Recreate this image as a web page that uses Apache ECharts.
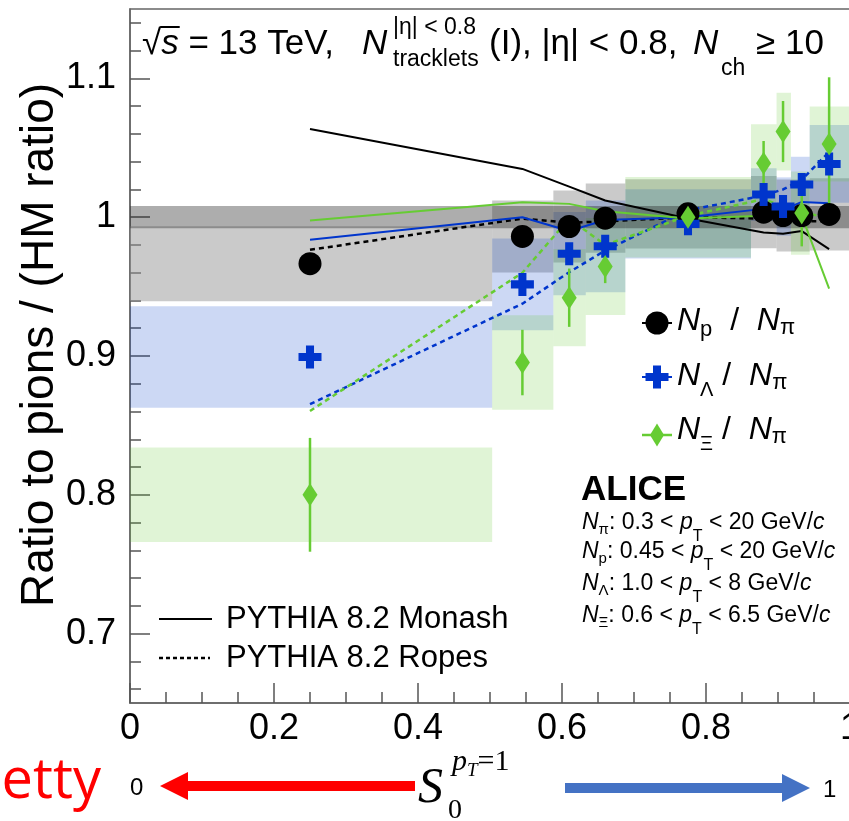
<!DOCTYPE html>
<html>
<head>
<meta charset="utf-8">
<script src="https://cdn.jsdelivr.net/npm/echarts@6/dist/echarts.min.js"></script>
<style>
  html, body { margin: 0; padding: 0; background: #fff; }
  #chart { width: 849px; height: 821px; }
</style>
</head>
<body>
<div id="chart"></div>
<script>
// S0 (pT=1) bins: centre and edges
var binX  = [0.25, 0.545, 0.61, 0.66, 0.775, 0.88, 0.907, 0.933, 0.971];
var binLo = [0, 0.503, 0.588, 0.633, 0.688, 0.8625, 0.898, 0.918, 0.944];
var binHi = [0.503, 0.588, 0.633, 0.688, 0.8625, 0.898, 0.918, 0.944, 1.0];

// data: ratio to pions / HM ratio
var protonRatio = [0.9665, 0.9861, 0.9933, 0.9993, 1.0024, 1.0036, 1.0012, 1.0012, 1.002];
var protonSyst  = [0.027, 0.026, 0.026, 0.025, 0.025, 0.026, 0.026, 0.026, 0.026];
var lambdaRatio = [0.8993, 0.9516, 0.9737, 0.979, 0.9952, 1.0163, 1.0077, 1.0235, 1.0384];
var lambdaSyst  = [0.0366, 0.033, 0.03, 0.033, 0.025, 0.019, 0.021, 0.02, 0.028];
var xiRatio = [0.800, 0.8953, 0.942, 0.9645, 1.0, 1.0389, 1.0617, 1.003, 1.0528];
var xiStat  = [0.041, 0.0236, 0.021, 0.012, 0.008, 0.016, 0.022, 0.024, 0.048];
var xiSyst  = [0.034, 0.034, 0.035, 0.035, 0.029, 0.028, 0.028, 0.03, 0.027];
var normBand = [0.992, 1.008];

// PYTHIA 8.2 curves at the same S0 points
var monashP  = [1.0636, 1.0348, 1.022, 1.012, 0.999, 0.989, 0.988, 0.990, 0.977];
var ropesP   = [0.9765, 0.999, 0.996, 0.997, 1.0, 0.999, 0.998, 0.997, 0.997];
var monashL  = [0.9837, 1.0, 0.990, 0.998, 1.0, 1.006, 1.005, 1.011, 1.010];
var ropesL   = [0.8653, 0.9377, 0.9604, 0.976, 1.005, 1.0156, 1.020, 1.027, 1.047];
var monashXi = [0.9976, 1.0108, 1.0096, 1.0043, 0.999, 1.001, 1.001, 1.001, 0.9485];
var ropesXi  = [0.8604, 0.960, 0.999, 0.980, 1.001, 1.013, 1.008, 1.004, 0.999];

var yMajorTicks = [0.7, 0.8, 0.9, 1.0, 1.1];
var yMinorTicks = [0.66, 0.68, 0.72, 0.74, 0.76, 0.78, 0.82, 0.84, 0.86, 0.88, 0.92, 0.94, 0.96, 0.98,
                   1.02, 1.04, 1.06, 1.08, 1.12, 1.14];

var SANS = '"Liberation Sans", Arial, sans-serif';
var SERIF = '"Liberation Serif", "DejaVu Serif", serif';
var BLACK = '#000', BLUE = '#0035cc', GREEN = '#66cc33';

var chart = echarts.init(document.getElementById('chart'));

function pts(ys) {
  return binX.map(function (x, i) { return [x, ys[i]]; });
}

// systematic boxes drawn as rects via the axes
function boxSeries(vals, errs, color, z) {
  return {
    type: 'custom', z: z, silent: true,
    renderItem: function (params, api) {
      var a = api.coord([api.value(0), api.value(3)]);
      var b = api.coord([api.value(1), api.value(2)]);
      return { type: 'rect', shape: { x: a[0], y: a[1], width: b[0] - a[0], height: b[1] - a[1] },
               style: { fill: color } };
    },
    data: binX.map(function (x, i) { return [binLo[i], binHi[i], vals[i] - errs[i], vals[i] + errs[i]]; })
  };
}

function errSeries(vals, errs, color, z) {
  return {
    type: 'custom', z: z, silent: true,
    renderItem: function (params, api) {
      var a = api.coord([api.value(0), api.value(1)]);
      var b = api.coord([api.value(0), api.value(2)]);
      return { type: 'line', shape: { x1: a[0], y1: a[1], x2: b[0], y2: b[1] },
               style: { stroke: color, lineWidth: 2.5 } };
    },
    data: binX.map(function (x, i) { return [x, vals[i] - errs[i], vals[i] + errs[i]]; })
  };
}

function mcLine(ys, color, dashed) {
  return {
    type: 'line', z: 5, silent: true, showSymbol: false, symbol: 'none',
    lineStyle: { color: color, width: dashed ? 2.5 : 2, type: dashed ? [5, 4] : 'solid' },
    data: pts(ys)
  };
}

var CROSS = 'path://M6.5,0H13.5V6.5H20V13.5H13.5V20H6.5V13.5H0V6.5H6.5Z';

// ---------- text helpers ----------
var mctx = document.createElement('canvas').getContext('2d');
function fnt(p) {
  return (p.it ? 'italic ' : '') + (p.b ? 'bold ' : '') + p.s + 'px ' + (p.f || SANS);
}
function txt(x, base, t, p) {
  return { type: 'text', z: 100, silent: true,
    style: { text: t, x: x, y: base - 0.35 * p.s, font: fnt(p), fill: p.c || BLACK,
             textAlign: p.al || 'left', align: p.al || 'left',
             textVerticalAlign: 'middle', verticalAlign: 'middle' } };
}
// lay text parts one after another; returns end x
function run(out, x, base, parts) {
  parts.forEach(function (p) {
    if (p.x !== undefined) x = p.x;
    out.push(txt(x, base + (p.dy || 0), p.t, p));
    mctx.font = fnt(p);
    x += mctx.measureText(p.t).width;
  });
  return x;
}

var g = [];
// header
var xs = run(g, 142, 57, [{ t: '\u221A', s: 35 }]);
var xe = run(g, xs, 57, [{ t: 's', s: 35, it: 1 }]);
g.push({ type: 'line', z: 100, shape: { x1: xs - 1, y1: 27, x2: xe + 1, y2: 27 }, style: { stroke: BLACK, lineWidth: 2 } });
run(g, xe, 57, [{ t: ' = 13 TeV,', s: 35 }]);
run(g, 362, 57, [{ t: 'N', s: 35, it: 1 }]);
run(g, 393, 57, [{ t: '|\u03B7| < 0.8', s: 23, dy: -21 }]);
run(g, 393, 57, [{ t: 'tracklets', s: 23, dy: 11 }]);
run(g, 489, 57, [{ t: '(I), |\u03B7| < 0.8,', s: 35 }]);
run(g, 693, 57, [{ t: 'N', s: 35, it: 1 }, { t: 'ch', s: 23, dy: 20, x: 721 }, { t: '\u2265 10', s: 35, x: 756 }]);

// y axis title
g.push({ type: 'text', z: 100, silent: true, x: 40, y: 345, rotation: Math.PI / 2,
  style: { text: 'Ratio to pions / (HM ratio)', x: 0, y: 0, font: '46px ' + SANS, fill: BLACK,
           textAlign: 'center', align: 'center', textVerticalAlign: 'middle', verticalAlign: 'middle' } });

// species legend
var lx = 657;
g.push({ type: 'line', z: 100, shape: { x1: lx - 15, y1: 323, x2: lx + 15, y2: 323 }, style: { stroke: BLACK, lineWidth: 2 } });
g.push({ type: 'circle', z: 100, shape: { cx: lx, cy: 323, r: 11.5 }, style: { fill: BLACK } });
g.push({ type: 'line', z: 100, shape: { x1: lx - 15, y1: 377, x2: lx + 15, y2: 377 }, style: { stroke: BLUE, lineWidth: 2 } });
g.push({ type: 'polygon', z: 100, shape: { points: [[lx - 4, 365.5], [lx + 4, 365.5], [lx + 4, 373], [lx + 11.5, 373], [lx + 11.5, 381], [lx + 4, 381], [lx + 4, 388.5], [lx - 4, 388.5], [lx - 4, 381], [lx - 11.5, 381], [lx - 11.5, 373], [lx - 4, 373]] }, style: { fill: BLUE } });
g.push({ type: 'line', z: 100, shape: { x1: lx - 15, y1: 435, x2: lx + 15, y2: 435 }, style: { stroke: GREEN, lineWidth: 2.5 } });
g.push({ type: 'polygon', z: 100, shape: { points: [[lx, 423.5], [lx + 7, 435], [lx, 446.5], [lx - 7, 435]] }, style: { fill: GREEN } });

run(g, 677, 332, [{ t: 'N', s: 32, it: 1 }, { t: 'p', s: 22, dy: 6 }, { t: '  /  ', s: 32 }, { t: 'N', s: 32, it: 1 }, { t: '\u03C0', s: 22, dy: 4 }]);
run(g, 677, 387, [{ t: 'N', s: 32, it: 1 }, { t: '\u039B', s: 20, dy: 10 }, { t: ' /  ', s: 32 }, { t: 'N', s: 32, it: 1 }, { t: '\u03C0', s: 22, dy: 4 }]);
run(g, 677, 441, [{ t: 'N', s: 32, it: 1 }, { t: '\u039E', s: 20, dy: 10 }, { t: ' /  ', s: 32 }, { t: 'N', s: 32, it: 1 }, { t: '\u03C0', s: 22, dy: 4 }]);

// ALICE block
run(g, 581, 503, [{ t: 'ALICE', s: 35, b: 1 }]);
var info = [['\u03C0', '0.3', '20'], ['p', '0.45', '20'], ['\u039B', '1.0', '8'], ['\u039E', '0.6', '6.5']];
var infoBase = [531, 560, 592, 624];
info.forEach(function (r, i) {
  run(g, 582, infoBase[i], [{ t: 'N', s: 23, it: 1 }, { t: r[0], s: 15, dy: 4 }, { t: ': ' + r[1] + ' < ', s: 23 },
    { t: 'p', s: 23, it: 1 }, { t: 'T', s: 16, dy: 11 }, { t: ' < ' + r[2] + ' GeV/', s: 23 }, { t: 'c', s: 23, it: 1 }]);
});

// PYTHIA legend
g.push({ type: 'line', z: 100, shape: { x1: 159, y1: 619, x2: 212, y2: 619 }, style: { stroke: BLACK, lineWidth: 2 } });
g.push({ type: 'line', z: 100, shape: { x1: 159, y1: 658, x2: 210, y2: 658 }, style: { stroke: BLACK, lineWidth: 2.5, lineDash: [4, 3] } });
run(g, 226, 630, [{ t: 'PYTHIA 8.2 Monash', s: 31 }]);
run(g, 226, 669, [{ t: 'PYTHIA 8.2 Ropes', s: 31 }]);

// bottom annotation
run(g, 101, 802, [{ t: 'etty', s: 56, c: '#ff0000', al: 'right', f: '"Open Sans", ' + SANS }]);
run(g, 130, 797, [{ t: '0', s: 24 }]);
g.push({ type: 'polygon', z: 100, shape: { points: [[160, 786], [188, 772], [188, 781], [415, 781], [415, 791], [188, 791], [188, 800]] }, style: { fill: '#ff0000' } });
run(g, 418, 806, [{ t: 'S', s: 50, it: 1, f: SERIF }]);
run(g, 452, 773, [{ t: 'p', s: 30, it: 1, f: SERIF }, { t: 'T', s: 19, it: 1, f: SERIF, dy: 5 }, { t: '=1', s: 30, f: SERIF }]);
run(g, 448, 820, [{ t: '0', s: 28, f: SERIF }]);
g.push({ type: 'polygon', z: 100, shape: { points: [[565, 783], [782, 783], [782, 774], [810, 788], [782, 802], [782, 793], [565, 793]] }, style: { fill: '#4472c4' } });
run(g, 823, 799, [{ t: '1', s: 24 }]);

var option = {
  animation: false,
  backgroundColor: '#fff',
  grid: { left: 130, top: 9, width: 720, height: 694, containLabel: false, outerBoundsMode: 'none',
          show: true, borderColor: '#666', borderWidth: 1.5, backgroundColor: 'transparent' },
  xAxis: {
    type: 'value', min: 0, max: 1, interval: 0.2,
    axisLine: { lineStyle: { color: '#666', width: 1.5 } },
    axisTick: { inside: true, length: 20, lineStyle: { color: '#555', width: 1.5 } },
    minorTick: { show: true, splitNumber: 4, length: 11, lineStyle: { color: '#555', width: 1.5 } },
    axisLabel: { fontSize: 36, color: BLACK, margin: 8, fontFamily: SANS, showMaxLabel: true, showMinLabel: true },
    splitLine: { show: false }, minorSplitLine: { show: false }
  },
  yAxis: [{
    type: 'value', min: 0.65, max: 1.15,
    axisLine: { show: true, lineStyle: { color: '#666', width: 1.5 } },
    axisTick: { show: true, inside: true, length: 20, customValues: yMajorTicks, lineStyle: { color: '#555', width: 1.5 } },
    axisLabel: { customValues: yMajorTicks, fontSize: 36, color: BLACK, margin: 14, fontFamily: SANS },
    splitLine: { show: false }
  }, {
    type: 'value', min: 0.65, max: 1.15, position: 'left', offset: 0,
    axisLine: { show: false },
    axisTick: { show: true, inside: true, length: 11, customValues: yMinorTicks, lineStyle: { color: '#555', width: 1.5 } },
    axisLabel: { show: false },
    splitLine: { show: false }
  }],
  series: [
    boxSeries(protonRatio, protonSyst, 'rgba(150,150,150,0.5)', 1),
    boxSeries(lambdaRatio, lambdaSyst, 'rgba(0,60,200,0.2)', 1),
    boxSeries(xiRatio, xiSyst, 'rgba(100,200,50,0.2)', 1),
    {
      type: 'custom', z: 2, silent: true,
      renderItem: function (params, api) {
        var a = api.coord([0, api.value(1)]);
        var b = api.coord([1, api.value(0)]);
        return { type: 'rect', shape: { x: a[0], y: a[1], width: b[0] - a[0], height: b[1] - a[1] },
                 style: { fill: 'rgba(40,40,40,0.38)' } };
      },
      data: [normBand]
    },
    mcLine(monashP, BLACK, false),
    mcLine(ropesP, BLACK, true),
    mcLine(monashL, BLUE, false),
    mcLine(ropesL, BLUE, true),
    mcLine(monashXi, GREEN, false),
    mcLine(ropesXi, GREEN, true),
    errSeries(xiRatio, xiStat, GREEN, 6),
    { type: 'scatter', z: 7, silent: true, symbol: 'circle', symbolSize: 23,
      itemStyle: { color: BLACK, opacity: 1 }, data: pts(protonRatio) },
    { type: 'scatter', z: 7, silent: true, symbol: CROSS, symbolSize: 23,
      itemStyle: { color: BLUE, opacity: 1 }, data: pts(lambdaRatio) },
    { type: 'scatter', z: 7, silent: true, symbol: 'diamond', symbolSize: [15, 23],
      itemStyle: { color: GREEN, opacity: 1 }, data: pts(xiRatio) }
  ],
  graphic: { elements: g }
};

chart.setOption(option);
</script>
</body>
</html>
